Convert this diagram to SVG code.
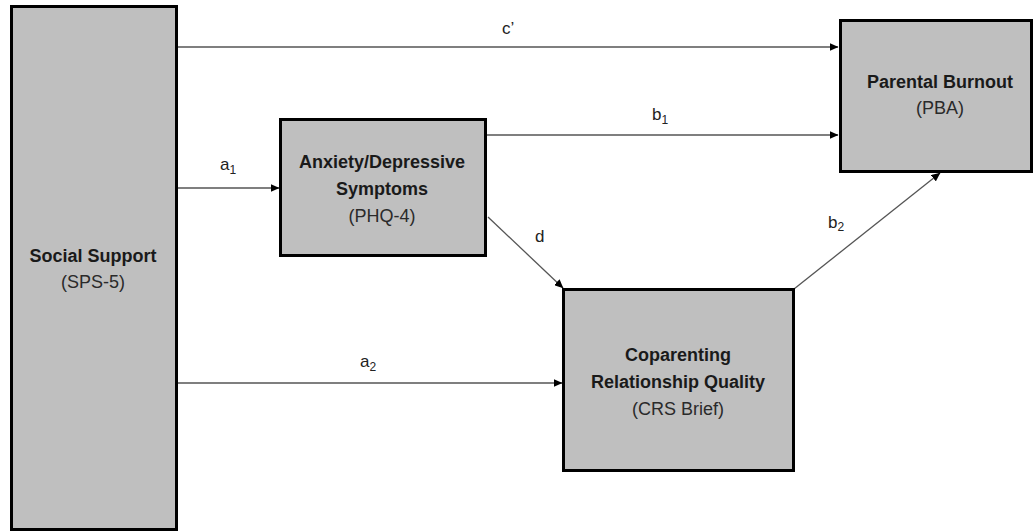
<svg xmlns="http://www.w3.org/2000/svg" width="1034" height="531" viewBox="0 0 1034 531">
  <defs>
    <style>
      .box { fill: #bfbfbf; stroke: #000; stroke-width: 3; }
      .title { font-family: "Liberation Sans", Arial, sans-serif; font-size: 18px; font-weight: bold; fill: #1a1a1a; text-anchor: middle; }
      .sub { font-family: "Liberation Sans", Arial, sans-serif; font-size: 18px; fill: #2a2a2a; text-anchor: middle; }
      .edge { stroke: #555; stroke-width: 1.3; fill: none; marker-end: url(#arrow); }
      .lbl { font-family: "Liberation Sans", Arial, sans-serif; font-size: 17px; fill: #222; }
      .idx { font-size: 12px; }
    </style>
    <marker id="arrow" markerWidth="9" markerHeight="8" refX="8.5" refY="4" orient="auto" markerUnits="userSpaceOnUse">
      <path d="M0,0 L9,4 L0,8 Z" fill="#000"/>
    </marker>
  </defs>

  <g id="connectors">
    <line class="edge" x1="178" y1="47" x2="838" y2="47"/>
    <line class="edge" x1="487" y1="135" x2="838" y2="135"/>
    <line class="edge" x1="178" y1="188" x2="279" y2="188"/>
    <line class="edge" x1="178" y1="383" x2="562" y2="383"/>
    <line class="edge" x1="488" y1="217" x2="563" y2="288"/>
    <line class="edge" x1="794" y1="289" x2="940" y2="173"/>
    <text class="lbl" x="502" y="34">c’</text>
    <text class="lbl" x="652" y="120">b<tspan class="idx" dy="4">1</tspan></text>
    <text class="lbl" x="220" y="170">a<tspan class="idx" dy="4">1</tspan></text>
    <text class="lbl" x="535" y="242">d</text>
    <text class="lbl" x="828" y="228">b<tspan class="idx" dy="3">2</tspan></text>
    <text class="lbl" x="360" y="367">a<tspan class="idx" dy="4">2</tspan></text>
  </g>

  <g id="social-support">
    <rect class="box" x="11.5" y="6.5" width="165" height="523"/>
    <text class="title" x="93" y="262">Social Support</text>
    <text class="sub" x="93" y="288">(SPS-5)</text>
  </g>

  <g id="anxiety-depressive">
    <rect class="box" x="280.5" y="119.5" width="205" height="136"/>
    <text class="title" x="382" y="168">Anxiety/Depressive</text>
    <text class="title" x="382" y="195">Symptoms</text>
    <text class="sub" x="382" y="222">(PHQ-4)</text>
  </g>

  <g id="coparenting">
    <rect class="box" x="563.5" y="289.5" width="230" height="181"/>
    <text class="title" x="678" y="361">Coparenting</text>
    <text class="title" x="678" y="388">Relationship Quality</text>
    <text class="sub" x="678" y="415">(CRS Brief)</text>
  </g>

  <g id="parental-burnout">
    <rect class="box" x="840.5" y="20.5" width="191" height="151"/>
    <text class="title" x="940" y="88">Parental Burnout</text>
    <text class="sub" x="940" y="114">(PBA)</text>
  </g>
</svg>
